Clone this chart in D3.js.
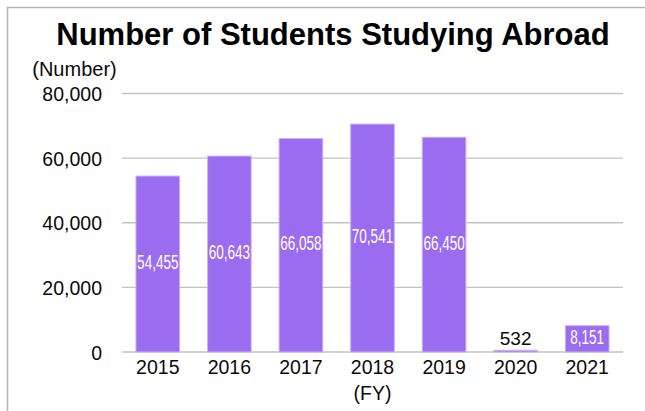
<!DOCTYPE html>
<html>
<head>
<meta charset="utf-8">
<script src="https://cdn.jsdelivr.net/npm/d3@7"></script>
<style>
  html, body { margin: 0; padding: 0; background: #fff; }
  svg { display: block; }
  text { font-family: "Liberation Sans", Arial, sans-serif; }
</style>
</head>
<body>
<svg id="chart" width="645" height="411"></svg>
<script>
const years = ["2015", "2016", "2017", "2018", "2019", "2020", "2021"];
const students = [54455, 60643, 66058, 70541, 66450, 532, 8151];
const yTicks = [0, 20000, 40000, 60000, 80000];
const title = "Number of Students Studying Abroad";
const yUnit = "(Number)";
const xUnit = "(FY)";

const svg = d3.select("#chart");
const W = 645, H = 411;
const plot = { left: 122, right: 623, top: 93.5, bottom: 352 };

// frame
svg.append("line").attr("x1", 7).attr("x2", W).attr("y1", 7.5).attr("y2", 7.5)
  .attr("stroke", "#b4b4b4").attr("stroke-width", 1.5);
svg.append("line").attr("x1", 7.5).attr("x2", 7.5).attr("y1", 7).attr("y2", H)
  .attr("stroke", "#b4b4b4").attr("stroke-width", 1.5);

const x = d3.scaleBand().domain(years).range([plot.left, plot.right])
  .paddingInner(0.39).paddingOuter(0.195);
const y = d3.scaleLinear().domain([0, 80000]).range([plot.bottom, plot.top]);

// gridlines
svg.append("g").selectAll("line").data(yTicks).join("line")
  .attr("x1", plot.left).attr("x2", plot.right)
  .attr("y1", d => y(d)).attr("y2", d => y(d))
  .attr("stroke", "#c3c3c3").attr("stroke-width", 1.3);

// y tick labels
const yAxis = d3.axisLeft(y).tickValues(yTicks).tickFormat(d3.format(",")).tickSize(0).tickPadding(20);
const ya = svg.append("g").attr("transform", `translate(${plot.left},0)`).call(yAxis);
ya.select(".domain").remove();
ya.selectAll("text").attr("font-size", 19.5).attr("fill", "#0a0a0a")
  .attr("font-family", "Liberation Sans, Arial, sans-serif").attr("dy", "0.36em");

// x tick labels
const xAxis = d3.axisBottom(x).tickSize(0).tickPadding(8);
const xa = svg.append("g").attr("transform", `translate(0,${plot.bottom})`).call(xAxis);
xa.select(".domain").remove();
xa.selectAll("text").attr("font-size", 19.5).attr("fill", "#0a0a0a")
  .attr("font-family", "Liberation Sans, Arial, sans-serif");

// bars
svg.append("g").selectAll("rect").data(years).join("rect")
  .attr("x", d => x(d))
  .attr("width", x.bandwidth())
  .attr("y", (d, i) => y(students[i]))
  .attr("height", (d, i) => y(0) - y(students[i]))
  .attr("fill", "#9b6cf0")
  .attr("stroke", "#c9b2f7").attr("stroke-width", 1);

// data labels
const fmt = d3.format(",");
years.forEach((yr, i) => {
  const v = students[i];
  const cx = x(yr) + x.bandwidth() / 2;
  const barH = y(0) - y(v);
  if (barH > 22) {
    const cy = (y(v) + y(0)) / 2 - 2;
    svg.append("text")
      .attr("transform", `translate(${cx},${cy + 7}) scale(0.66,1)`)
      .attr("text-anchor", "middle")
      .attr("font-size", 20.5).attr("fill", "#fff")
      .text(fmt(v));
  } else {
    svg.append("text")
      .attr("x", cx).attr("y", y(v) - 5)
      .attr("text-anchor", "middle")
      .attr("font-size", 19).attr("fill", "#0a0a0a")
      .text(fmt(v));
  }
});

// title
svg.append("text").attr("x", 333).attr("y", 45).attr("text-anchor", "middle")
  .attr("font-size", 31).attr("font-weight", "bold").attr("fill", "#000")
  .text(title);

// axis units
svg.append("text").attr("x", 74.5).attr("y", 76).attr("text-anchor", "middle")
  .attr("font-size", 20).attr("fill", "#0a0a0a").text(yUnit);
svg.append("text").attr("x", x("2018") + x.bandwidth() / 2).attr("y", 400).attr("text-anchor", "middle")
  .attr("font-size", 19.5).attr("fill", "#0a0a0a").text(xUnit);
</script>
</body>
</html>
